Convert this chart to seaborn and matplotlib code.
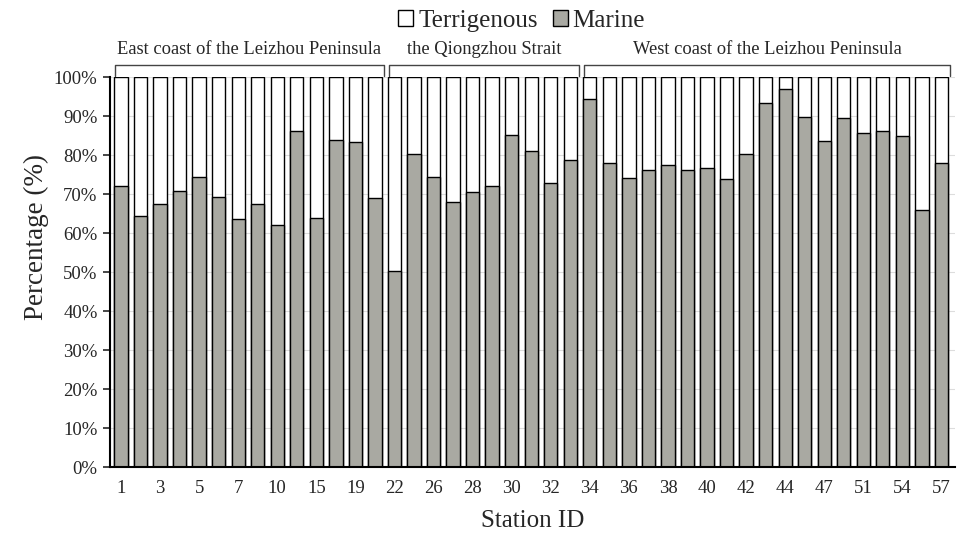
import matplotlib
matplotlib.use("Agg")
import matplotlib.pyplot as plt
import seaborn as sns
import pandas as pd
import numpy as np
from matplotlib.patches import Patch

# Marine share (%) per station (43 stations, every other one labelled)
marine = [72.0, 64.3, 67.4, 70.9, 74.3, 69.2, 63.7, 67.4, 62.0, 86.3, 63.8, 83.8, 83.4, 69.1,
          50.3, 80.2, 74.4, 67.9, 70.6, 72.1, 85.1, 81.1, 72.8, 78.8,
          94.3, 77.9, 74.1, 76.3, 77.4, 76.2, 76.8, 73.8, 80.3, 93.4, 97.1, 89.8, 83.7, 89.5,
          85.7, 86.2, 84.8, 66.0, 78.0]
terrigenous = [round(100 - m, 1) for m in marine]

tick_labels = ['1', '', '3', '', '5', '', '7', '', '10', '', '15', '', '19', '',
               '22', '', '26', '', '28', '', '30', '', '32', '',
               '34', '', '36', '', '38', '', '40', '', '42', '', '44', '', '47', '', '51', '', '54', '', '57']

# coastal groups: (label, first bar, last bar)
groups = [('East coast of the Leizhou Peninsula', 0, 13),
          ('the Qiongzhou Strait', 14, 23),
          ('West coast of the Leizhou Peninsula', 24, 42)]

df = pd.DataFrame({'pos': range(len(marine)), 'marine': marine, 'terrigenous': terrigenous})
df['top'] = df['marine'] + df['terrigenous']

sns.set_style('ticks')
plt.rcParams['font.family'] = ['Liberation Serif', 'DejaVu Serif']

gray = '#a9a9a2'
fig = plt.figure(figsize=(9.57, 5.4), dpi=100)
ax = fig.add_axes([0.115, 0.135, 0.883, 0.722])

ax.yaxis.grid(True, color='#dddddd', linewidth=0.8)
ax.set_axisbelow(True)

# stacked bars: terrigenous on top of marine
sns.barplot(data=df, x='pos', y='top', color='white', edgecolor='black', linewidth=1.0,
            width=0.68, saturation=1, ax=ax)
sns.barplot(data=df, x='pos', y='marine', color=gray, edgecolor='black', linewidth=1.0,
            width=0.68, saturation=1, ax=ax)

ax.set_ylim(0, 100)
ax.set_xlim(-0.56, 42.7)
ax.set_yticks(np.arange(0, 101, 10))
ax.set_yticklabels([f'{v}%' for v in range(0, 101, 10)], fontsize=13.5)
ax.set_xticks(range(len(tick_labels)))
ax.set_xticklabels(tick_labels, fontsize=13.5)
ax.tick_params(axis='x', length=0, pad=9)
ax.tick_params(axis='y', length=5, width=1.2, direction='out', pad=4)
for s in ['top', 'right']:
    ax.spines[s].set_visible(False)
for s in ['left', 'bottom']:
    ax.spines[s].set_linewidth(1.5)
    ax.spines[s].set_color('black')

ax.set_ylabel('Percentage (%)', fontsize=19.5)
ax.yaxis.set_label_coords(-0.072, 0.59)
ax.set_xlabel('Station ID', fontsize=18, labelpad=10)

# group brackets above the bars
for name, a, b in groups:
    x0, x1 = a - 0.3, b + 0.45
    ax.plot([x0, x0, x1, x1], [100.4, 103.1, 103.1, 100.4], color='#444444', lw=1.0, clip_on=False)
    ax.text((x0 + x1) / 2, 107.0, name, ha='center', va='center', fontsize=13.3)

handles = [Patch(facecolor='white', edgecolor='black', linewidth=1.0, label='Terrigenous'),
           Patch(facecolor=gray, edgecolor='black', linewidth=1.0, label='Marine')]
fig.legend(handles=handles, loc='center', bbox_to_anchor=(0.545, 0.962), ncol=2, frameon=False,
           fontsize=18, handlelength=0.6, handleheight=0.6, handletextpad=0.2, columnspacing=0.6)

fig.savefig('out.png', dpi=100)
